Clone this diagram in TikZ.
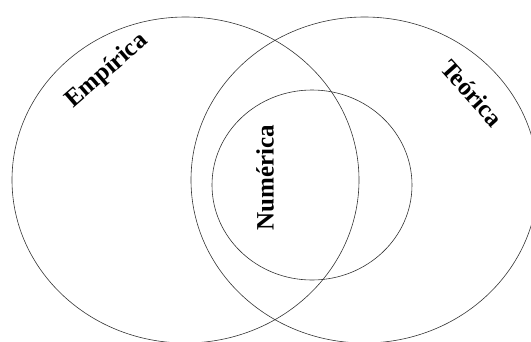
\documentclass[tikz,border=0pt]{standalone}
\usepackage{fontspec}
\setmainfont{Liberation Serif}
\begin{document}
\begin{tikzpicture}[x=1pt,y=-1pt,
  ring/.style={draw=black!80, line width=0.6pt},
  lbl/.style={font=\fontsize{25}{28}\selectfont\bfseries, inner sep=0pt}]
\useasboundingbox (0,0) rectangle (531,341);
\draw[ring] (185.5,180) ellipse [x radius=173.5pt, y radius=163pt];
\draw[ring] (364.5,180) ellipse [x radius=173.5pt, y radius=163pt];
\draw[ring] (312,185) ellipse [x radius=100pt, y radius=95pt];
\node[lbl, rotate=41] (emp) at (107,71) {Empírica};
\node[lbl, rotate=-48] (teo) at (472,93) {Teórica};
\node[lbl, rotate=90] (num) at (265,178) {Numérica};
\end{tikzpicture}
\end{document}
